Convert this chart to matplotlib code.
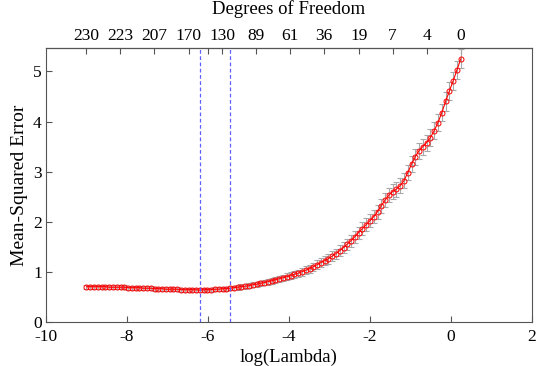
import numpy as np
import matplotlib
matplotlib.use('Agg')
import matplotlib.pyplot as plt

plt.rcParams['font.family'] = ['Liberation Serif', 'DejaVu Serif']
plt.rcParams['axes.unicode_minus'] = False

# cross-validation curve
log_lambda = np.linspace(-9.0, 0.24, 100)
mse = [0.70, 0.70, 0.70, 0.70, 0.70, 0.70, 0.69, 0.69, 0.69, 0.69,
       0.69, 0.68, 0.68, 0.68, 0.68, 0.67, 0.67, 0.67, 0.66, 0.66,
       0.66, 0.65, 0.65, 0.65, 0.65, 0.64, 0.64, 0.64, 0.64, 0.64,
       0.63, 0.64, 0.64, 0.64, 0.65, 0.65, 0.66, 0.66, 0.67, 0.68,
       0.69, 0.70, 0.71, 0.72, 0.74, 0.75, 0.77, 0.78, 0.80, 0.82,
       0.84, 0.86, 0.88, 0.90, 0.92, 0.95, 0.97, 1.00, 1.03, 1.06,
       1.10, 1.14, 1.18, 1.22, 1.26, 1.31, 1.36, 1.42, 1.48, 1.55,
       1.62, 1.70, 1.78, 1.86, 1.94, 2.02, 2.10, 2.20, 2.32, 2.43,
       2.53, 2.60, 2.65, 2.72, 2.82, 2.98, 3.15, 3.30, 3.42, 3.50,
       3.58, 3.68, 3.82, 3.98, 4.18, 4.40, 4.61, 4.81, 5.03, 5.25]
err = [0.04, 0.04, 0.04, 0.04, 0.04, 0.04, 0.04, 0.04, 0.04, 0.04,
       0.04, 0.04, 0.04, 0.04, 0.04, 0.04, 0.04, 0.04, 0.04, 0.04,
       0.04, 0.04, 0.04, 0.04, 0.04, 0.04, 0.04, 0.04, 0.04, 0.04,
       0.04, 0.04, 0.04, 0.04, 0.04, 0.04, 0.04, 0.04, 0.04, 0.04,
       0.05, 0.05, 0.05, 0.05, 0.05, 0.05, 0.05, 0.05, 0.06, 0.06,
       0.06, 0.06, 0.06, 0.07, 0.07, 0.07, 0.07, 0.08, 0.08, 0.08,
       0.08, 0.09, 0.09, 0.09, 0.10, 0.10, 0.10, 0.11, 0.11, 0.11,
       0.12, 0.12, 0.12, 0.13, 0.13, 0.13, 0.13, 0.14, 0.14, 0.14,
       0.14, 0.15, 0.15, 0.15, 0.15, 0.15, 0.16, 0.16, 0.16, 0.16,
       0.16, 0.17, 0.17, 0.17, 0.17, 0.18, 0.18, 0.18, 0.18, 0.19]

lambda_min = -6.20
lambda_1se = -5.46

df_ticks = [-9.01, -8.17, -7.33, -6.48, -6.0, -5.65, -4.81, -3.98,
            -3.14, -2.28, -1.44, -0.60, 0.24]
df_labels = ['230', '223', '207', '170', '', '130', '89', '61',
             '36', '19', '7', '4', '0']

fig = plt.figure(figsize=(5.36, 3.66), dpi=100)
ax = fig.add_axes([0.0858, 0.121, 0.9067, 0.748])

ax.errorbar(log_lambda, mse, yerr=err, fmt='none', ecolor='#a8a8a8',
            elinewidth=0.8, capsize=2.5, capthick=0.8, zorder=1)
ax.plot(log_lambda, mse, color='red', linewidth=0.8, marker='o',
        markersize=3.6, markerfacecolor='none', markeredgecolor='red',
        markeredgewidth=0.7, zorder=2)

ax.axvline(lambda_min, color='#6060ff', linestyle='--', linewidth=0.9,
           dashes=(3, 2))
ax.axvline(lambda_1se, color='#6060ff', linestyle='--', linewidth=0.9,
           dashes=(3, 2))

ax.set_xlim(-10, 2)
ax.set_ylim(0, 5.47)
ax.set_xticks(np.arange(-10, 3, 2))
ax.set_yticks(np.arange(0, 6, 1))
ax.tick_params(axis='x', direction='in', length=4, labelsize=12.5,
               color='#555555', width=0.8, pad=5)
ax.tick_params(axis='y', direction='in', length=4, labelsize=12.5,
               color='#555555', width=0.8, pad=3)
for s in ax.spines.values():
    s.set_color('#555555')
    s.set_linewidth(0.8)

ax.set_xlabel('log(Lambda)', fontsize=13.5, labelpad=3)
ax.set_ylabel('Mean-Squared Error', fontsize=14, labelpad=4)

top = ax.secondary_xaxis('top')
top.set_xticks(df_ticks)
top.set_xticklabels(df_labels)
top.tick_params(direction='in', length=4, labelsize=12.5, color='#555555',
                width=0.8, pad=3)
top.set_xlabel('Degrees of Freedom', fontsize=13.5, labelpad=10)

fig.savefig('out.png', dpi=100)
